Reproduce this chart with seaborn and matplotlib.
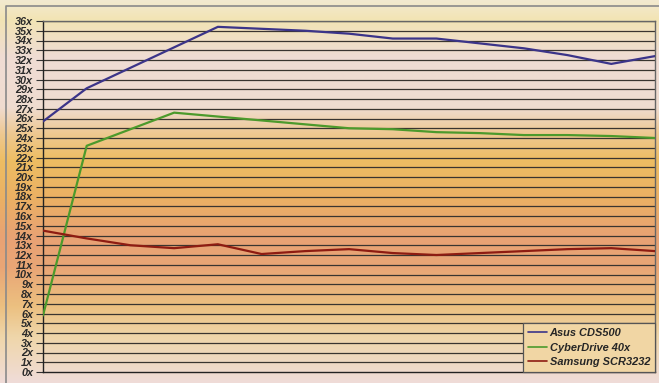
import numpy as np
import pandas as pd
import matplotlib
matplotlib.use("Agg")
import matplotlib.pyplot as plt
import matplotlib.colors as mcolors
import seaborn as sns

# values (15 equally spaced samples)
drives = ["Asus CDS500", "CyberDrive 40x", "Samsung SCR3232"]
asus = [25.7, 29.1, 31.2, 33.3, 35.4, 35.2, 35.0, 34.7, 34.2, 34.2, 33.7, 33.2, 32.5, 31.6, 32.4]
cyber = [5.8, 23.2, 24.9, 26.6, 26.2, 25.8, 25.4, 25.0, 24.9, 24.6, 24.5, 24.3, 24.3, 24.2, 24.0]
samsung = [14.5, 13.7, 13.0, 12.7, 13.1, 12.1, 12.4, 12.6, 12.2, 12.0, 12.2, 12.4, 12.6, 12.7, 12.4]
y_ticks = list(range(0, 37))
y_labels = [f"{v}x" for v in y_ticks]

df = pd.DataFrame({
    "pos": list(range(len(asus))) * 3,
    "speed": asus + cyber + samsung,
    "drive": [drives[0]] * len(asus) + [drives[1]] * len(cyber) + [drives[2]] * len(samsung),
})
colors = {drives[0]: "#3b3489", drives[1]: "#4c9a2c", drives[2]: "#8e1c12"}

sns.set_theme(style="white")
plt.rcParams["font.family"] = ["Liberation Sans", "DejaVu Sans"]

fig = plt.figure(figsize=(6.59, 3.83), dpi=100)

# background gradient of the scanned page
stops = [0.0, 0.05, 0.15, 0.28, 0.35, 0.42, 0.52, 0.62, 0.70, 0.80, 0.88, 1.0]
hexes = ["#f3ead0", "#f2e4b4", "#efdcd4", "#f0dcd0", "#eec890", "#edbd62",
         "#ebb064", "#e8a274", "#e9a676", "#ecc080", "#efd6aa", "#f0dcd8"]
rgb = np.array([mcolors.to_rgb(h) for h in hexes])
t = np.linspace(0, 1, 400)
grad = np.stack([np.interp(t, stops, rgb[:, c]) for c in range(3)], axis=1)
grad = np.repeat(grad[:, None, :], 2, axis=1)
bg = fig.add_axes([0, 0, 1, 1], zorder=0)
bg.imshow(grad, aspect="auto", extent=[0, 1, 0, 1])
bg.set_axis_off()
# scan border
bg.plot([6 / 659, 6 / 659, 1], [0, 1 - 6 / 383, 1 - 6 / 383], color="#8a8a8a", lw=1.2)
bg.set_xlim(0, 1)
bg.set_ylim(0, 1)

ax = fig.add_axes([43 / 659, 11 / 383, 612 / 659, 351 / 383], zorder=1)
ax.patch.set_alpha(0)
for v in y_ticks[1:]:
    ax.axhline(v, color="#3a3530", lw=0.9, zorder=1)

sns.lineplot(data=df, x="pos", y="speed", hue="drive", palette=colors,
             linewidth=1.6, ax=ax, zorder=3, legend=False)

ax.set_xlim(0, len(asus) - 1)
ax.set_ylim(0, 36)
ax.set_yticks(y_ticks)
ax.set_yticklabels(y_labels, fontsize=7.8, fontweight="bold", fontstyle="italic", color="#2a2a2a")
ax.set_xticks([])
ax.set_xlabel("")
ax.set_ylabel("")
ax.tick_params(axis="y", left=True, length=5, width=0.8, color="#333333", pad=2)
for side in ["left", "bottom"]:
    ax.spines[side].set_color("#222222")
    ax.spines[side].set_linewidth(1.0)
for side in ["top", "right"]:
    ax.spines[side].set_color("#666666")
    ax.spines[side].set_linewidth(1.0)

handles = [plt.Line2D([], [], color=colors[d], lw=1.2) for d in drives]
leg = ax.legend(handles, drives, loc="lower right", bbox_to_anchor=(1.0, 0.0),
                frameon=True, fancybox=False, borderaxespad=0, handlelength=1.8,
                handletextpad=0.2, labelspacing=0.4, borderpad=0.45,
                prop={"size": 7.9, "weight": "bold", "style": "italic"})
leg.get_frame().set_facecolor("#f1d6a4")
leg.get_frame().set_edgecolor("#555555")
leg.get_frame().set_linewidth(0.9)
leg.get_frame().set_alpha(1)
leg.set_zorder(5)

fig.savefig("out.png", dpi=100)
